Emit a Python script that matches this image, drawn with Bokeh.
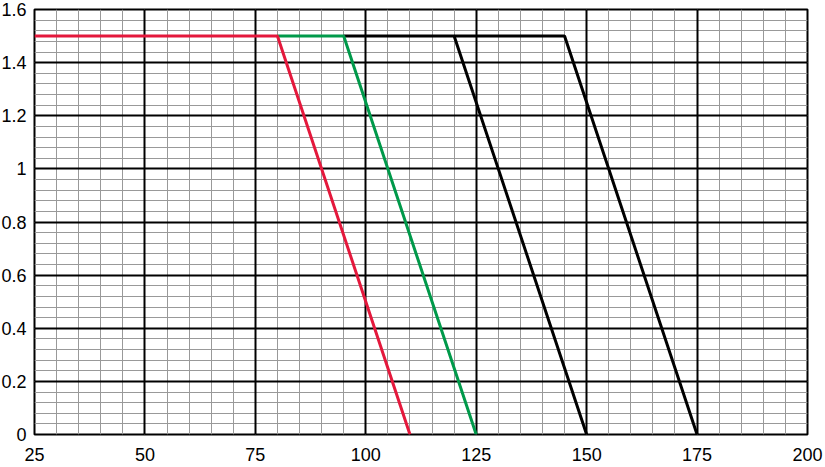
from bokeh.plotting import figure
from bokeh.models import Range1d, FixedTicker, Grid
from bokeh.embed import file_html
from bokeh.resources import INLINE

# data
red_x = [25, 80, 110]
red_y = [1.5, 1.5, 0]
green_x = [80, 95, 125]
green_y = [1.5, 1.5, 0]
black1_x = [95, 120, 150]
black1_y = [1.5, 1.5, 0]
black2_x = [120, 145, 175]
black2_y = [1.5, 1.5, 0]

x_ticks = [25, 50, 75, 100, 125, 150, 175, 200]
y_ticks = [0, 0.2, 0.4, 0.6, 0.8, 1.0, 1.2, 1.4, 1.6]
y_tick_labels = ["0", "0.2", "0.4", "0.6", "0.8", "1", "1.2", "1.4", "1.6"]
x_minor = [25 + 5 * i for i in range(36)]
y_minor = [round(0.04 * i, 2) for i in range(41)]

p = figure(width=833, height=475, output_backend="svg", toolbar_location=None,
           x_range=Range1d(25, 200), y_range=Range1d(0, 1.6),
           frame_width=773, frame_height=425,
           min_border_left=42, min_border_top=17, min_border_right=18, min_border_bottom=33)
p.styles = {"margin-left": "-8px", "margin-top": "-8px"}

xt = FixedTicker(ticks=x_ticks, minor_ticks=[])
yt = FixedTicker(ticks=y_ticks, minor_ticks=[])
p.xaxis.ticker = xt
p.yaxis.ticker = yt
p.yaxis.major_label_overrides = {t: l for t, l in zip(y_ticks, y_tick_labels)}

for ax in (p.xaxis, p.yaxis):
    ax.axis_line_color = None
    ax.major_tick_line_color = None
    ax.minor_tick_line_color = None
    ax.major_tick_in = 0
    ax.major_tick_out = 0
    ax.minor_tick_in = 0
    ax.minor_tick_out = 0
    ax.major_label_text_font = "Liberation Sans"
    ax.major_label_text_color = "black"
    ax.major_label_text_font_size = "18px"
p.xaxis.major_label_standoff = 13
p.yaxis.major_label_standoff = 8

# default grids off; explicit minor then major grids
p.xgrid.visible = False
p.ygrid.visible = False
p.add_layout(Grid(dimension=0, ticker=FixedTicker(ticks=x_minor, minor_ticks=[]),
                  grid_line_color="#999999", grid_line_width=1))
p.add_layout(Grid(dimension=1, ticker=FixedTicker(ticks=y_minor, minor_ticks=[]),
                  grid_line_color="#999999", grid_line_width=1))
p.add_layout(Grid(dimension=0, ticker=xt, grid_line_color="black", grid_line_width=2))
p.add_layout(Grid(dimension=1, ticker=yt, grid_line_color="black", grid_line_width=2))

p.outline_line_color = "black"
p.outline_line_width = 2
p.background_fill_color = "white"
p.border_fill_color = "white"

p.line(black2_x, black2_y, color="black", line_width=3)
p.line(black1_x, black1_y, color="black", line_width=3)
p.line(green_x, green_y, color="#00994a", line_width=3)
p.line(red_x, red_y, color="#e4183c", line_width=3)

open("out.html", "w").write(file_html(p, INLINE))
